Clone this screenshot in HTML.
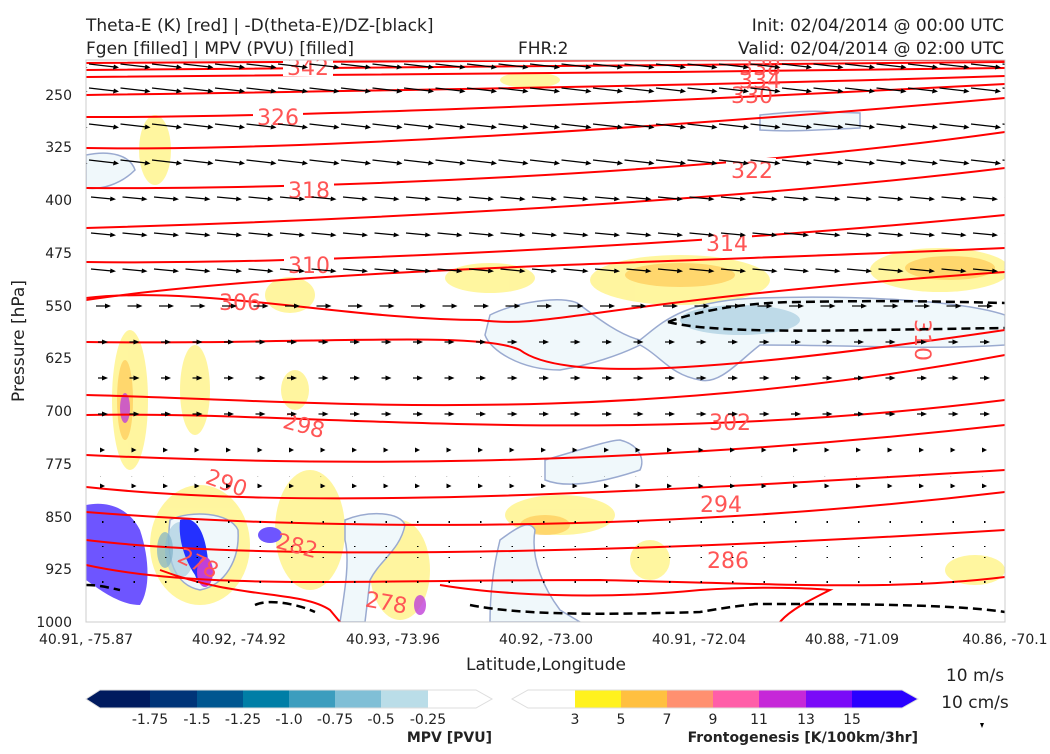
<!DOCTYPE html>
<html><head><meta charset="utf-8"><style>
body{margin:0;background:#fff;width:1050px;height:750px;overflow:hidden;font-family:"DejaVu Sans","Liberation Sans",sans-serif}
text{font-family:"DejaVu Sans","Liberation Sans",sans-serif}
</style></head><body>
<svg width="1050" height="750" xmlns="http://www.w3.org/2000/svg">
<defs>
<clipPath id="pc"><rect x="86" y="60" width="919" height="562"/></clipPath>
<pattern id="a30" x="88" y="0" width="31.5" height="12" patternUnits="userSpaceOnUse"><path d="M1,4 L27,7" stroke="#000" stroke-width="1.3"/><path d="M31,7.5 L25,9.5 L26,4.5 Z"/></pattern>
<pattern id="a26" x="88" y="0" width="31.5" height="12" patternUnits="userSpaceOnUse"><path d="M3,5 L24,7" stroke="#000" stroke-width="1.3"/><path d="M28,7.3 L22,9.3 L22.5,4.5 Z"/></pattern>
<pattern id="a14" x="88" y="0" width="31.5" height="12" patternUnits="userSpaceOnUse"><path d="M8,6 L19,6" stroke="#000" stroke-width="1.2"/><path d="M23,6 L17,8.5 L17,3.5 Z"/></pattern>
<pattern id="a9" x="88" y="0" width="31.5" height="12" patternUnits="userSpaceOnUse"><path d="M10,6 L16,6" stroke="#000" stroke-width="1.2"/><path d="M20,6 L14,8.5 L14,3.5 Z"/></pattern>
<pattern id="a5" x="88" y="0" width="31.5" height="12" patternUnits="userSpaceOnUse"><path d="M17,6 L12,8.5 L12,3.5 Z"/></pattern>
<pattern id="a2" x="88" y="0" width="31.5" height="12" patternUnits="userSpaceOnUse"><rect x="14" y="5" width="1.5" height="2"/></pattern>
</defs>
<text x="86" y="31" font-size="17" fill="#222">Theta-E (K) [red] | -D(theta-E)/DZ-[black]</text>
<text x="86" y="54" font-size="17" fill="#222">Fgen [filled] | MPV (PVU) [filled]</text>
<text x="518" y="54" font-size="17" fill="#222">FHR:2</text>
<text x="1004" y="31" font-size="17" fill="#222" text-anchor="end">Init: 02/04/2014 @ 00:00 UTC</text>
<text x="1004" y="54" font-size="17" fill="#222" text-anchor="end">Valid: 02/04/2014 @ 02:00 UTC</text>
<g clip-path="url(#pc)">
<g fill="#fff59a" opacity="0.95">
<ellipse cx="155" cy="150" rx="16" ry="35"/>
<ellipse cx="290" cy="295" rx="25" ry="18"/>
<ellipse cx="490" cy="278" rx="45" ry="15"/>
<ellipse cx="680" cy="280" rx="90" ry="25"/>
<ellipse cx="940" cy="270" rx="70" ry="22"/>
<ellipse cx="195" cy="390" rx="15" ry="45"/>
<ellipse cx="130" cy="400" rx="18" ry="70"/>
<ellipse cx="295" cy="390" rx="14" ry="20"/>
<ellipse cx="560" cy="515" rx="55" ry="20"/>
<ellipse cx="310" cy="530" rx="35" ry="60"/>
<ellipse cx="400" cy="570" rx="30" ry="50"/>
<ellipse cx="650" cy="560" rx="20" ry="20"/>
<ellipse cx="975" cy="570" rx="30" ry="15"/>
<ellipse cx="200" cy="545" rx="50" ry="60"/>
<ellipse cx="530" cy="80" rx="30" ry="8"/>
</g>
<g fill="#ffd060" opacity="0.8">
<ellipse cx="680" cy="275" rx="55" ry="12"/>
<ellipse cx="950" cy="268" rx="45" ry="12"/>
<ellipse cx="545" cy="525" rx="25" ry="10"/>
<ellipse cx="125" cy="400" rx="8" ry="40"/>
</g>
<g fill="#f0f8fb" stroke="#9aaad0" stroke-width="1.5">
<path d="M490,315 C520,300 570,295 580,305 C600,320 620,335 640,340 C660,325 680,300 760,298 C850,295 960,300 1005,315 L1005,345 C930,350 850,345 760,345 C740,360 720,385 700,380 C670,375 660,355 640,345 C620,355 590,365 560,370 C520,370 490,350 485,335 Z"/>
<path d="M545,460 C580,450 610,440 620,440 C640,445 645,460 640,470 C610,480 570,490 545,480 Z"/>
<path d="M345,520 C370,510 400,512 405,525 C400,550 380,560 370,580 L365,622 L340,622 C345,590 350,560 345,540 Z"/>
<path d="M500,540 C520,525 530,520 535,530 C530,560 545,590 560,610 L580,622 L490,622 C490,590 495,560 500,540 Z"/>
<path d="M760,115 C790,112 815,110 830,112 L860,113 L860,128 C820,130 790,132 760,130 Z"/>
<path d="M86,155 C110,150 130,155 135,170 C120,185 100,190 86,188 Z"/>
<path d="M170,520 C190,510 230,512 238,530 C240,560 225,585 200,590 C175,585 165,560 170,520 Z"/>
</g>
<g fill="#a8cde0" opacity="0.7"><ellipse cx="180" cy="550" rx="15" ry="28"/><ellipse cx="740" cy="320" rx="60" ry="15"/></g>
<g fill="#7fb0c8" opacity="0.7"><ellipse cx="165" cy="550" rx="8" ry="18"/></g>
<path d="M86,505 C110,500 130,510 140,530 C150,560 150,590 140,605 C120,605 100,590 86,580 Z" fill="#6e55ff"/>
<path d="M180,520 C195,515 205,530 208,560 C210,580 200,590 195,575 C185,560 178,540 180,520 Z" fill="#2430ff"/>
<ellipse cx="205" cy="572" rx="8" ry="15" fill="#c040d8"/>
<ellipse cx="270" cy="535" rx="12" ry="8" fill="#6e55ff"/>
<ellipse cx="125" cy="408" rx="5" ry="15" fill="#c040d8" opacity="0.8"/>
<ellipse cx="420" cy="605" rx="6" ry="10" fill="#c040d8" opacity="0.8"/>
<rect x="240" y="606" width="85" height="16" fill="#fff"/>
<g fill="none" stroke="#ff0000" stroke-width="2">
<path d="M86,63 C300,60 700,60 1005,60"/>
<path d="M86,70 C300,68 700,65 1005,62"/>
<path d="M86,77 C300,76 700,72 1005,68"/>
<path d="M86,95 C300,92 700,86 1005,76"/>
<path d="M86,117 C300,118 700,100 1005,84"/>
<path d="M86,148 C300,152 700,125 1005,98"/>
<path d="M86,188 C300,190 700,175 1005,132"/>
<path d="M86,228 C300,222 700,205 1005,168"/>
<path d="M86,262 C300,265 700,245 1005,215"/>
<path d="M86,300 C300,268 700,262 1005,248"/>
<path d="M86,298 C200,285 350,320 480,320 C550,330 600,300 1005,272"/>
<path d="M86,342 C300,345 480,330 520,350 C560,380 700,375 1005,330"/>
<path d="M86,395 C300,400 600,430 1005,355"/>
<path d="M86,415 C300,410 600,450 1005,400"/>
<path d="M86,455 C300,465 600,470 1005,425"/>
<path d="M86,487 C300,510 600,495 1005,470"/>
<path d="M86,512 C250,525 600,540 1005,492"/>
<path d="M86,540 C250,560 600,555 1005,530"/>
<path d="M86,565 C200,590 350,580 600,580 C800,585 900,590 1005,577"/>
<path d="M160,570 C240,600 300,590 330,610 L340,622"/>
<path d="M440,585 C500,595 600,600 700,590 C780,585 830,590 830,590 C810,600 790,610 780,622"/>
</g>
<g font-size="22" fill="#ff5555" text-anchor="middle">
<rect x="283" y="58" width="50" height="18" fill="#fff"/><text x="308" y="75">342</text>
<text x="760" y="75">338</text><text x="760" y="88">334</text><text x="752" y="103">330</text>
<rect x="253" y="105" width="50" height="22" fill="#fff"/><text x="278" y="125">326</text>
<rect x="726" y="158" width="50" height="22" fill="#fff"/><text x="752" y="178">322</text>
<rect x="284" y="178" width="50" height="22" fill="#fff"/><text x="309" y="198">318</text>
<rect x="702" y="232" width="50" height="22" fill="#fff"/><text x="727" y="251">314</text>
<rect x="284" y="253" width="50" height="22" fill="#fff"/><text x="309" y="273">310</text>
<text x="240" y="310">306</text>
<text x="730" y="430">302</text>
<text x="302" y="433" transform="rotate(15 302 433)">298</text>
<text x="224" y="490" transform="rotate(20 224 490)">290</text>
<text x="721" y="512">294</text>
<text x="295" y="553" transform="rotate(15 295 553)">282</text>
<text x="195" y="570" transform="rotate(25 195 570)">278</text>
<text x="385" y="610" transform="rotate(10 385 610)">278</text>
<text x="728" y="568">286</text>
<text x="915" y="340" transform="rotate(90 915 340)">310</text>
</g>
<g fill="none" stroke="#000" stroke-width="2.5" stroke-dasharray="9,5">
<path d="M668,322 C700,310 750,302 800,302 C900,300 960,302 1005,303"/>
<path d="M668,322 C720,335 850,330 1005,328"/>
<path d="M86,585 C100,585 110,588 120,590"/>
<path d="M255,605 C270,598 300,605 315,612"/>
<path d="M470,605 C520,615 600,615 700,612 C740,605 750,605 755,604 C850,604 950,604 1005,612"/>
</g>
<!-- wind arrows -->
<rect x="86" y="60" width="919" height="12" fill="url(#a30)"/>
<rect x="86" y="84" width="919" height="12" fill="url(#a30)"/>
<rect x="86" y="120" width="919" height="12" fill="url(#a30)"/>
<rect x="86" y="156" width="919" height="12" fill="url(#a30)"/>
<rect x="86" y="192" width="919" height="12" fill="url(#a26)"/>
<rect x="86" y="228" width="919" height="12" fill="url(#a26)"/>
<rect x="86" y="264" width="919" height="12" fill="url(#a26)"/>
<rect x="86" y="300" width="919" height="12" fill="url(#a14)"/>
<rect x="86" y="336" width="919" height="12" fill="url(#a9)"/>
<rect x="86" y="371" width="919" height="12" fill="url(#a9)"/>
<rect x="86" y="406" width="919" height="12" fill="url(#a9)"/>
<rect x="86" y="441" width="919" height="12" fill="url(#a5)"/>
<rect x="86" y="476" width="919" height="12" fill="url(#a5)"/>
<rect x="86" y="511" width="919" height="12" fill="url(#a2)"/>
<rect x="86" y="546" width="919" height="12" fill="url(#a2)"/>
<rect x="86" y="581" width="919" height="12" fill="url(#a2)"/>
</g>
<rect x="86" y="60" width="919" height="562" fill="none" stroke="#ccc" stroke-width="1"/>
<g font-size="14" fill="#222" text-anchor="end">
<text x="72" y="100">250</text><text x="72" y="152">325</text><text x="72" y="205">400</text><text x="72" y="258">475</text><text x="72" y="311">550</text><text x="72" y="363">625</text><text x="72" y="416">700</text><text x="72" y="469">775</text><text x="72" y="522">850</text><text x="72" y="574">925</text><text x="72" y="627">1000</text>
</g>
<text x="24" y="341" font-size="17" fill="#222" text-anchor="middle" transform="rotate(-90 24 341)">Pressure [hPa]</text>
<g font-size="14" fill="#222" text-anchor="middle">
<text x="86" y="644">40.91, -75.87</text><text x="239" y="644">40.92, -74.92</text><text x="393" y="644">40.93, -73.96</text><text x="546" y="644">40.92, -73.00</text><text x="699" y="644">40.91, -72.04</text><text x="852" y="644">40.88, -71.09</text><text x="1005" y="644">40.86, -70.1</text>
</g>
<text x="546" y="670" font-size="17" fill="#222" text-anchor="middle">Latitude,Longitude</text>
<text x="975" y="681" font-size="17" fill="#222" text-anchor="middle">10 m/s</text>
<text x="975" y="708" font-size="17" fill="#222" text-anchor="middle">10 cm/s</text>
<path d="M982,728 L980,723 L984,723 Z" fill="#000"/>
<path d="M100,690 L86,699 L100,708 Z" fill="#001a5e"/>
<rect x="100" y="690" width="50" height="18" fill="#001a5e"/>
<rect x="150" y="690" width="47" height="18" fill="#003478"/>
<rect x="197" y="690" width="46" height="18" fill="#005690"/>
<rect x="243" y="690" width="46" height="18" fill="#007ea6"/>
<rect x="289" y="690" width="46" height="18" fill="#3c9dbe"/>
<rect x="335" y="690" width="46" height="18" fill="#80bfd6"/>
<rect x="381" y="690" width="47" height="18" fill="#badde8"/>
<path d="M100,690 L476,690 L492,699 L476,708 L100,708 L86,699 Z" fill="none" stroke="#ddd"/>
<g font-size="14" fill="#222" text-anchor="middle">
<text x="150" y="724">-1.75</text><text x="197" y="724">-1.5</text><text x="243" y="724">-1.25</text><text x="289" y="724">-1.0</text><text x="335" y="724">-0.75</text><text x="381" y="724">-0.5</text><text x="428" y="724">-0.25</text>
</g>
<text x="492" y="742" font-size="14" font-weight="bold" fill="#222" text-anchor="end">MPV [PVU]</text>
<rect x="575" y="690" width="46" height="18" fill="#fff21e"/>
<rect x="621" y="690" width="46" height="18" fill="#ffc040"/>
<rect x="667" y="690" width="46" height="18" fill="#ff9070"/>
<rect x="713" y="690" width="46" height="18" fill="#ff5ea8"/>
<rect x="759" y="690" width="47" height="18" fill="#c628d8"/>
<rect x="806" y="690" width="46" height="18" fill="#7a0af8"/>
<rect x="852" y="690" width="50" height="18" fill="#2a00ff"/>
<path d="M902,690 L918,699 L902,708 Z" fill="#2a00ff"/>
<path d="M528,690 L902,690 L918,699 L902,708 L528,708 L512,699 Z" fill="none" stroke="#ddd"/>
<g font-size="14" fill="#222" text-anchor="middle">
<text x="575" y="724">3</text><text x="621" y="724">5</text><text x="667" y="724">7</text><text x="713" y="724">9</text><text x="759" y="724">11</text><text x="806" y="724">13</text><text x="852" y="724">15</text>
</g>
<text x="918" y="742" font-size="14" font-weight="bold" fill="#222" text-anchor="end">Frontogenesis [K/100km/3hr]</text>
</svg>
</body></html>
